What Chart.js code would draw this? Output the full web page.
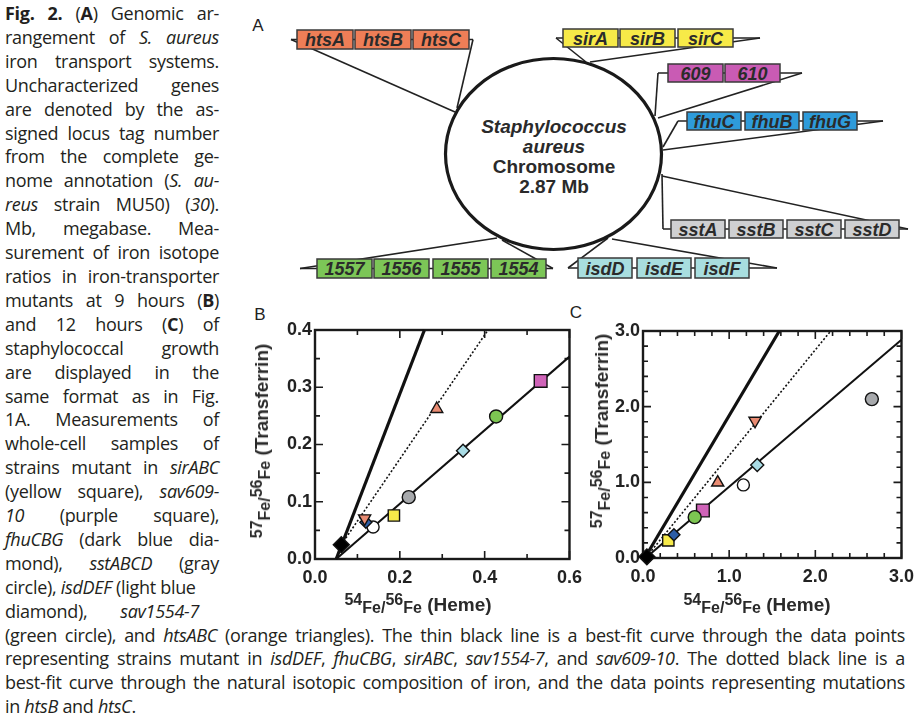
<!DOCTYPE html>
<html>
<head>
<meta charset="utf-8">
<script src="https://cdn.jsdelivr.net/npm/chart.js@4.4.1/dist/chart.umd.min.js"></script>
<style>
  html, body { margin: 0; padding: 0; background: #fff; }
  body { width: 922px; height: 726px; position: relative; overflow: hidden; }
  .cap { position: absolute; left: 5px; top: 2px; font-family: "Open Sans", "Noto Sans", sans-serif; font-size: 18px; line-height: 23.9px; color: #231f20; letter-spacing: -0.3px; }
  .cap div { white-space: nowrap; text-align: justify; text-align-last: justify; width: 214px; }
  .cap div.nw { width: 194px; }
  .cap div.w { width: 900px; }
  .cap div.end { text-align-last: left; }
  .lbl { position: absolute; font: 17px "Liberation Sans", Arial, sans-serif; color: #222; transform: translate(-50%, -50%); }
  .axt { position: absolute; font: bold 19px "Liberation Sans", Arial, sans-serif; color: #2a2a2a; white-space: nowrap; transform: translate(-50%, -50%); }
  .axt.rot { transform: translate(-50%, -50%) rotate(-90deg); }
  .axt .n { font-size: 16px; position: relative; top: -6px; }
  .axt .f { font-size: 16px; position: relative; top: 2px; }
  canvas, svg { position: absolute; }
</style>
</head>
<body>

<div class="cap">
  <div><b>Fig. 2.</b> (<b>A</b>) Genomic ar-</div>
  <div>rangement of <i>S. aureus</i></div>
  <div>iron transport systems.</div>
  <div>Uncharacterized genes</div>
  <div>are denoted by the as-</div>
  <div>signed locus tag number</div>
  <div>from the complete ge-</div>
  <div>nome annotation (<i>S. au-</i></div>
  <div><i>reus</i> strain MU50) (<i>30</i>).</div>
  <div>Mb, megabase. Mea-</div>
  <div>surement of iron isotope</div>
  <div>ratios in iron-transporter</div>
  <div>mutants at 9 hours (<b>B</b>)</div>
  <div>and 12 hours (<b>C</b>) of</div>
  <div>staphylococcal growth</div>
  <div>are displayed in the</div>
  <div>same format as in Fig.</div>
  <div>1A. Measurements of</div>
  <div>whole-cell samples of</div>
  <div>strains mutant in <i>sirABC</i></div>
  <div>(yellow square), <i>sav609-</i></div>
  <div><i>10</i> (purple square),</div>
  <div><i>fhuCBG</i> (dark blue dia-</div>
  <div>mond), <i>sstABCD</i> (gray</div>
  <div class="nw end">circle), <i>isdDEF</i> (light blue</div>
  <div class="nw">diamond), <i>sav1554-7</i></div>
  <div class="w">(green circle), and <i>htsABC</i> (orange triangles). The thin black line is a best-fit curve through the data points</div>
  <div class="w">representing strains mutant in <i>isdDEF</i>, <i>fhuCBG</i>, <i>sirABC</i>, <i>sav1554-7</i>, and <i>sav609-10</i>. The dotted black line is a</div>
  <div class="w">best-fit curve through the natural isotopic composition of iron, and the data points representing mutations</div>
  <div class="w end">in <i>htsB</i> and <i>htsC</i>.</div>
</div>

<svg id="diag" width="922" height="300" style="left:0;top:0"></svg>

<div class="lbl" style="left:258px;top:26px">A</div>
<div class="lbl" style="left:260px;top:315px">B</div>
<div class="lbl" style="left:576px;top:313px">C</div>

<canvas id="plotB" width="350" height="300" style="left:240px;top:300px"></canvas>
<canvas id="plotC" width="332" height="300" style="left:590px;top:300px"></canvas>

<div class="axt rot" style="left:262px;top:441px"><span class="n">57</span><span class="f">Fe/</span><span class="n">56</span><span class="f">Fe</span> (Transferrin)</div>
<div class="axt rot" style="left:602px;top:431px"><span class="n">57</span><span class="f">Fe/</span><span class="n">56</span><span class="f">Fe</span> (Transferrin)</div>
<div class="axt" style="left:418px;top:605px"><span class="n">54</span><span class="f">Fe/</span><span class="n">56</span><span class="f">Fe</span> (Heme)</div>
<div class="axt" style="left:757px;top:605px"><span class="n">54</span><span class="f">Fe/</span><span class="n">56</span><span class="f">Fe</span> (Heme)</div>

<script>
// Mutantes (una marca por cepa)
const mutantes = ['natural', 'htsB', 'htsC', 'fhuCBG', 'blanco', 'sirABC', 'sstABCD', 'isdDEF', 'sav1554-7', 'sav609-10'];

// Panel B: 9 horas
const b9hX = [0.062, 0.287, 0.117, 0.120, 0.137, 0.186, 0.221, 0.349, 0.427, 0.532];
const b9hY = [0.025, 0.262, 0.071, 0.064, 0.056, 0.076, 0.108, 0.189, 0.249, 0.311];

// Panel C: 12 horas
const c12hX = [0.045, 0.867, 1.300, 0.359, 1.165, 0.294, 2.656, 1.326, 0.600, 0.695];
const c12hY = [0.015, 0.997, 1.814, 0.307, 0.966, 0.233, 2.100, 1.230, 0.540, 0.628];

// Rectas de ajuste (extremos)
const bGruesaX = [0.050, 0.258], bGruesaY = [0.0, 0.4];
const bPunteadaX = [0.062, 0.408], bPunteadaY = [0.025, 0.4];
const bFinaX = [0.050, 0.600], bFinaY = [0.0, 0.3535];
const cGruesaX = [0.020, 1.582], cGruesaY = [0.0, 3.0];
const cPunteadaX = [0.040, 2.178], cPunteadaY = [0.015, 3.0];
const cFinaX = [0.030, 3.000], cFinaY = [0.0, 2.885];

// Marcas de los ejes
const bXMayor = [0, 0.2, 0.4, 0.6], bXMenor = [0.1, 0.3, 0.5];
const bYMayor = [0, 0.1, 0.2, 0.3, 0.4], bYMenor = [0.05, 0.15, 0.25, 0.35];
const cXMayor = [0, 1, 2, 3], cXMenor = [0.2, 0.4, 0.6, 0.8, 1.2, 1.4, 1.6, 1.8, 2.2, 2.4, 2.6, 2.8];
const cYMayor = [0, 1, 2, 3], cYMenor = [0.2, 0.4, 0.6, 0.8, 1.2, 1.4, 1.6, 1.8, 2.2, 2.4, 2.6, 2.8];

// Estilo de cada marca
const estilos = [
    { s: 'rectRot', c: '#000000', r: 8 },
    { s: 'triangle', c: '#E98B72', r: 7 },
    { s: 'triangle', c: '#E98B72', r: 7, rot: 180 },
    { s: 'rectRot', c: '#2C5DA6', r: 6 },
    { s: 'circle', c: '#FFFFFF', r: 6 },
    { s: 'rect', c: '#F6EA4A', r: 8 },
    { s: 'circle', c: '#A7A9AC', r: 6.5 },
    { s: 'rectRot', c: '#A9DCE5', r: 6.5 },
    { s: 'circle', c: '#7DC552', r: 6.5 },
    { s: 'rect', c: '#CF63B8', r: 9 }
];

// ---------- Panel A (diagrama) ----------
const grupos = [
    { genes: ['htsA', 'htsB', 'htsC'], fill: '#EE7E57', x: [297, 355, 413], w: 56, y: 30, h: 19, ends: [291, 473], hit: [[455, 112], [457, 108]] },
    { genes: ['sirA', 'sirB', 'sirC'], fill: '#F7EA48', x: [563, 620, 678], w: 55, y: 29, h: 18, ends: [556, 760], hit: [[586, 62], [590, 62]] },
    { genes: ['609', '610'], fill: '#C95BB4', x: [668, 725], w: 55, y: 64, h: 18, ends: [658, 802], hit: [[655, 116], [658, 118]] },
    { genes: ['fhuC', 'fhuB', 'fhuG'], fill: '#2E9BDA', x: [687, 745, 803], w: 54, y: 112, h: 18, ends: [678, 883], hit: [[663, 147], [663, 150]] },
    { genes: ['sstA', 'sstB', 'sstC', 'sstD'], fill: '#CFD0D2', x: [671, 729, 787, 845], w: 54, y: 220, h: 18, ends: [663, 908], hit: [[662, 174], [662, 176]] },
    { genes: ['isdD', 'isdE', 'isdF'], fill: '#A8DEDF', x: [578, 637, 695], w: 54, y: 258, h: 20, ends: [568, 777], hit: [[608, 238], [612, 239]] },
    { genes: ['1557', '1556', '1555', '1554'], fill: '#7CC657', x: [317, 374, 433, 491], w: 55, y: 259, h: 19, ends: [300, 553], hit: [[497, 238], [502, 240]] }
];

const svgNS = 'http://www.w3.org/2000/svg';
const svg = document.getElementById('diag');
function el(tag, attrs, text) {
    const e = document.createElementNS(svgNS, tag);
    for (const k in attrs) e.setAttribute(k, attrs[k]);
    if (text) e.textContent = text;
    svg.appendChild(e);
    return e;
}

// lineas
grupos.forEach(g => {
    const yc = g.y + g.h / 2;
    const st = { stroke: '#222', 'stroke-width': 1.6, fill: 'none' };
    el('line', { x1: g.ends[0], y1: yc, x2: g.ends[1], y2: yc, ...st });
    el('line', { x1: g.ends[0], y1: yc, x2: g.hit[0][0], y2: g.hit[0][1], ...st });
    el('line', { x1: g.ends[1], y1: yc, x2: g.hit[1][0], y2: g.hit[1][1], ...st });
});

// cromosoma
el('ellipse', { cx: 553.5, cy: 154, rx: 108, ry: 95.5, fill: '#fff', stroke: '#1a1a1a', 'stroke-width': 3.2 });
const fCentro = '"Liberation Sans", Arial, sans-serif';
el('text', { x: 554, y: 133, 'text-anchor': 'middle', 'font-family': fCentro, 'font-size': 19, 'font-weight': 'bold', 'font-style': 'italic', fill: '#2a2a2a' }, 'Staphylococcus');
el('text', { x: 554, y: 153, 'text-anchor': 'middle', 'font-family': fCentro, 'font-size': 19, 'font-weight': 'bold', 'font-style': 'italic', fill: '#2a2a2a' }, 'aureus');
el('text', { x: 554, y: 173, 'text-anchor': 'middle', 'font-family': fCentro, 'font-size': 19, 'font-weight': 'bold', fill: '#2a2a2a' }, 'Chromosome');
el('text', { x: 554, y: 193, 'text-anchor': 'middle', 'font-family': fCentro, 'font-size': 19, 'font-weight': 'bold', fill: '#2a2a2a' }, '2.87 Mb');

// genes
grupos.forEach(g => {
    g.genes.forEach((name, i) => {
        el('rect', { x: g.x[i], y: g.y, width: g.w, height: g.h, fill: g.fill, stroke: '#3a3a3a', 'stroke-width': 1.5 });
        el('text', { x: g.x[i] + g.w / 2, y: g.y + g.h / 2 + 6.5, 'text-anchor': 'middle', 'font-family': fCentro, 'font-size': 18, 'font-weight': 'bold', 'font-style': 'italic', fill: '#2b2b2b' }, name);
    });
});

// ---------- Paneles B y C ----------
const fuenteTicks = { family: '"Liberation Sans", Arial, sans-serif', size: 18, weight: 'bold' };

// marcas interiores en los cuatro lados + marco
const marco = {
    id: 'marco',
    beforeDatasetsDraw(chart, args, o) {
        const { ctx, chartArea: a, scales: { x, y } } = chart;
        ctx.save();
        ctx.strokeStyle = '#1a1a1a';
        ctx.lineWidth = 1.6;
        ctx.beginPath();
        const tx = (v, len) => {
            const p = x.getPixelForValue(v);
            ctx.moveTo(p, a.bottom); ctx.lineTo(p, a.bottom - len);
            ctx.moveTo(p, a.top); ctx.lineTo(p, a.top + len);
        };
        const ty = (v, len) => {
            const p = y.getPixelForValue(v);
            ctx.moveTo(a.left, p); ctx.lineTo(a.left + len, p);
            ctx.moveTo(a.right, p); ctx.lineTo(a.right - len, p);
        };
        o.xMayor.forEach(v => tx(v, 8));
        o.xMenor.forEach(v => tx(v, 5));
        o.yMayor.forEach(v => ty(v, 8));
        o.yMenor.forEach(v => ty(v, 5));
        ctx.stroke();
        ctx.lineWidth = 2.4;
        ctx.strokeRect(a.left, a.top, a.right - a.left, a.bottom - a.top);
        ctx.restore();
    }
};

function marcas(xs, ys) {
    return xs.map((x, i) => ({
        label: mutantes[i],
        data: [{ x: x, y: ys[i] }],
        pointStyle: estilos[i].s,
        rotation: estilos[i].rot || 0,
        pointRadius: estilos[i].r,
        backgroundColor: estilos[i].c,
        borderColor: '#111',
        borderWidth: 1.4,
        showLine: false,
        clip: false,
        order: 1
    }));
}

function recta(xs, ys, ancho, guion) {
    return {
        data: xs.map((x, i) => ({ x: x, y: ys[i] })),
        showLine: true,
        borderColor: '#111',
        borderWidth: ancho,
        borderDash: guion,
        pointRadius: 0,
        fill: false,
        clip: false,
        order: 2
    };
}

function grafica(canvas, p) {
    return new Chart(canvas, {
        type: 'scatter',
        data: {
            datasets: [
                ...marcas(p.xs, p.ys),
                recta(p.gruesa[0], p.gruesa[1], 3.2, []),
                recta(p.punteada[0], p.punteada[1], 1.6, [2, 2]),
                recta(p.fina[0], p.fina[1], 2, [])
            ]
        },
        options: {
            responsive: false,
            animation: false,
            events: [],
            layout: { padding: p.padding },
            plugins: {
                legend: { display: false },
                tooltip: { enabled: false },
                marco: p.marcas
            },
            scales: {
                x: {
                    type: 'linear',
                    min: p.xMin, max: p.xMax,
                    afterBuildTicks: s => { s.ticks = p.marcas.xMayor.map(v => ({ value: v })); },
                    ticks: { font: fuenteTicks, color: '#222', padding: 8, maxRotation: 0, autoSkip: false, callback: v => v.toFixed(1) },
                    grid: { display: false, drawTicks: false },
                    border: { display: false },
                    afterFit: s => { s.height = p.altoX; }
                },
                y: {
                    type: 'linear',
                    min: p.yMin, max: p.yMax,
                    afterBuildTicks: s => { s.ticks = p.marcas.yMayor.map(v => ({ value: v })); },
                    ticks: { font: fuenteTicks, color: '#222', padding: 3, autoSkip: false, callback: v => v.toFixed(1) },
                    grid: { display: false, drawTicks: false },
                    border: { display: false },
                    afterFit: s => { s.width = p.anchoY; }
                }
            }
        },
        plugins: [marco]
    });
}

grafica(document.getElementById('plotB'), {
    xs: b9hX, ys: b9hY,
    gruesa: [bGruesaX, bGruesaY], punteada: [bPunteadaX, bPunteadaY], fina: [bFinaX, bFinaY],
    xMin: 0, xMax: 0.6, yMin: 0, yMax: 0.4,
    padding: { top: 30, right: 17, left: 0, bottom: 0 },
    anchoY: 75, altoX: 41,
    marcas: { xMayor: bXMayor, xMenor: bXMenor, yMayor: bYMayor, yMenor: bYMenor }
});

grafica(document.getElementById('plotC'), {
    xs: c12hX, ys: c12hY,
    gruesa: [cGruesaX, cGruesaY], punteada: [cPunteadaX, cPunteadaY], fina: [cFinaX, cFinaY],
    xMin: 0, xMax: 3, yMin: 0, yMax: 3,
    padding: { top: 31, right: 14, left: 0, bottom: 0 },
    anchoY: 53, altoX: 42,
    marcas: { xMayor: cXMayor, xMenor: cXMenor, yMayor: cYMayor, yMenor: cYMenor }
});
</script>
</body>
</html>
